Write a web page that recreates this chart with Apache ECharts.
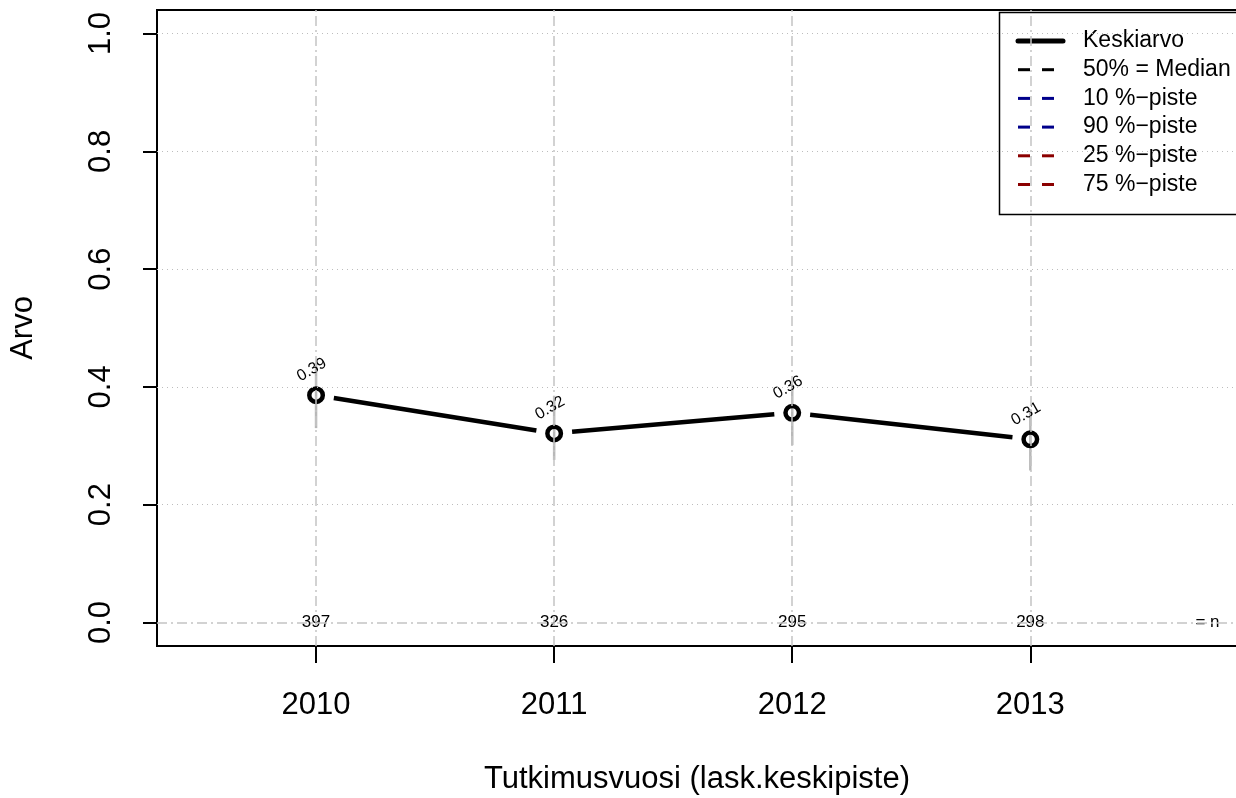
<!DOCTYPE html>
<html>
<head>
<meta charset="utf-8">
<title>Keskiarvo</title>
<script src="https://cdn.jsdelivr.net/npm/echarts@6/dist/echarts.min.js"></script>
<style>
  html, body { margin: 0; padding: 0; background: #fff; }
  #main { width: 1236px; height: 798px; }
</style>
</head>
<body>
<div id="main"></div>
<script>
// data
var years = [2010, 2011, 2012, 2013];
var means = [0.386, 0.321, 0.356, 0.311];
var ciLow = [0.330, 0.276, 0.301, 0.258];
var ciHigh = [0.440, 0.385, 0.403, 0.362];
var counts = [397, 326, 295, 298];
var yTicks = [0, 0.2, 0.4, 0.6, 0.8, 1.0];

var FONT = '"Liberation Sans", Arial, sans-serif';
var myChart = echarts.init(document.getElementById('main'));

// line pieces between points, leaving a gap round each circle (like R type="b")
var segData = years.slice(0, -1).map(function (y, i) {
    return [y, means[i], years[i + 1], means[i + 1]];
});
var ciData = years.map(function (y, i) { return [y, ciLow[i], ciHigh[i]]; });
var meanData = years.map(function (y, i) { return [y, means[i]]; });
var nData = years.map(function (y, i) { return [y, 0, counts[i]]; });

// grid lines
var gridLines = [];
years.forEach(function (y) {
    gridLines.push({ xAxis: y, lineStyle: { color: '#c4c4c4', width: 1.5, type: [10, 4, 2, 4] } });
});
yTicks.slice(1).forEach(function (v) {
    gridLines.push({ yAxis: v, lineStyle: { color: '#bdbdbd', width: 1.2, type: [1, 4] } });
});
gridLines.push({ yAxis: 0, lineStyle: { color: '#c4c4c4', width: 1.5, type: [10, 4, 2, 4] } });

// legend (R style box, drawn by hand)
var legendRows = [
    { name: 'Keskiarvo', color: '#000', width: 5, dash: null },
    { name: '50% = Median', color: '#000', width: 3, dash: [12, 12] },
    { name: '10 %\u2212piste', color: '#00008b', width: 3, dash: [12, 12] },
    { name: '90 %\u2212piste', color: '#00008b', width: 3, dash: [12, 12] },
    { name: '25 %\u2212piste', color: '#8b0000', width: 3, dash: [12, 12] },
    { name: '75 %\u2212piste', color: '#8b0000', width: 3, dash: [12, 12] }
];
var legendGraphic = [{
    type: 'rect', left: 997, top: 10,
    shape: { width: 260, height: 202 },
    style: { fill: 'none', stroke: '#000', lineWidth: 1.5 }
}];
legendRows.forEach(function (r, i) {
    var y = 41 + i * 28.7;
    legendGraphic.push({
        type: 'line',
        shape: { x1: 1018, y1: y, x2: 1063, y2: y },
        style: { stroke: r.color, lineWidth: r.width, lineDash: r.dash, lineCap: r.dash ? 'butt' : 'round' }
    });
    legendGraphic.push({
        type: 'text', x: 1083, y: y,
        style: { text: r.name, font: '23px ' + FONT, fill: '#000', textVerticalAlign: 'middle' }
    });
});

var option = {
    animation: false,
    textStyle: { fontFamily: FONT },
    grid: {
        left: 157, top: 10, right: -1, bottom: 152, outerBoundsMode: 'none', containLabel: false,
        show: true, borderColor: '#000', borderWidth: 2, backgroundColor: '#fff'
    },
    xAxis: {
        type: 'value', min: 2009.332, max: 2013.868,
        name: 'Tutkimusvuosi (lask.keskipiste)', nameLocation: 'middle', nameGap: 118,
        nameMoveOverlap: false,
        nameTextStyle: { fontSize: 31, color: '#000' },
        axisLine: { show: false, onZero: false },
        axisTick: { show: true, length: 17, customValues: years, lineStyle: { color: '#000', width: 2 } },
        axisLabel: { customValues: years, fontSize: 31, color: '#000', margin: 44,
            formatter: function (v) { return String(v); } },
        splitLine: { show: false }
    },
    yAxis: {
        type: 'value', min: -0.04, max: 1.04,
        name: 'Arvo', nameLocation: 'middle', nameGap: 118, nameRotate: 90,
        nameMoveOverlap: false,
        nameTextStyle: { fontSize: 31, color: '#000' },
        axisLine: { show: false, onZero: false },
        axisTick: { show: true, length: 14, customValues: yTicks, lineStyle: { color: '#000', width: 2 } },
        axisLabel: { customValues: yTicks, rotate: 90, fontSize: 31, color: '#000', margin: 40,
            formatter: function (v) { return v.toFixed(1); } },
        splitLine: { show: false }
    },
    graphic: legendGraphic,
    series: [
        {
            name: 'grid', type: 'line', data: [], silent: true,
            markLine: { symbol: ['none', 'none'], silent: true, label: { show: false }, data: gridLines }
        },
        {
            name: 'vaihteluvali', type: 'custom', data: ciData, silent: true,
            renderItem: function (params, api) {
                var a = api.coord([api.value(0), api.value(1)]);
                var b = api.coord([api.value(0), api.value(2)]);
                return { type: 'line', shape: { x1: a[0], y1: a[1], x2: b[0], y2: b[1] },
                    style: { stroke: '#b8b8b8', lineWidth: 2.5 } };
            }
        },
        {
            name: 'Keskiarvo', type: 'custom', data: segData, silent: true,
            renderItem: function (params, api) {
                var a = api.coord([api.value(0), api.value(1)]);
                var b = api.coord([api.value(2), api.value(3)]);
                var dx = b[0] - a[0], dy = b[1] - a[1];
                var len = Math.sqrt(dx * dx + dy * dy), gap = 18;
                var ux = dx / len, uy = dy / len;
                return { type: 'line',
                    shape: { x1: a[0] + ux * gap, y1: a[1] + uy * gap, x2: b[0] - ux * gap, y2: b[1] - uy * gap },
                    style: { stroke: '#000', lineWidth: 4.5 } };
            }
        },
        {
            name: 'pisteet', type: 'scatter', data: meanData, symbol: 'circle', symbolSize: 13.5,
            itemStyle: { color: 'rgba(0,0,0,0)', borderColor: '#000', borderWidth: 4.5, opacity: 1 },
            label: { show: true, position: 'inside', offset: [9, -24], rotate: 30,
                fontSize: 16, color: '#000',
                formatter: function (p) { return p.value[1].toFixed(2); } }
        },
        {
            name: 'n', type: 'scatter', data: nData, symbolSize: 0, itemStyle: { opacity: 1 },
            label: { show: true, position: 'inside', fontSize: 17, color: '#000',
                formatter: function (p) { return String(p.value[2]); } }
        },
        {
            name: 'n-teksti', type: 'scatter', data: [[2013.744, 0]], symbolSize: 0, itemStyle: { opacity: 1 },
            label: { show: true, position: 'inside', fontSize: 17, color: '#000', formatter: '= n' }
        }
    ]
};
myChart.setOption(option);
</script>
</body>
</html>
